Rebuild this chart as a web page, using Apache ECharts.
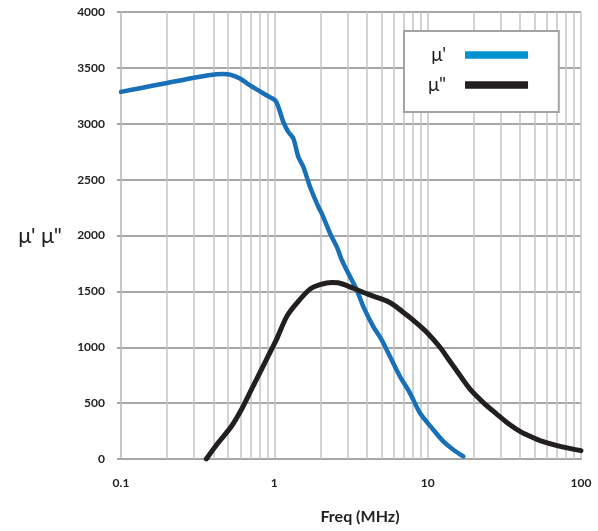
<!DOCTYPE html>
<html>
<head>
<meta charset="utf-8">
<script src="https://cdn.jsdelivr.net/npm/echarts@6/dist/echarts.min.js"></script>
<style>html,body{margin:0;padding:0;background:#fff}#c{width:598px;height:531px}</style>
</head>
<body>
<div id="c"></div>
<script>
// μ' (real part) : frequency (MHz) and values
var freqMuP = [0.1, 0.133, 0.2, 0.327, 0.42, 0.47, 0.514, 0.597, 0.69, 0.806, 0.9, 1.01, 1.062, 1.144, 1.233, 1.33, 1.433, 1.545, 1.709, 1.936, 2.037, 2.307, 2.552, 2.75, 2.89, 3.115, 3.446, 3.805, 4.42, 5.01, 5.68, 6.6, 7.67, 8.91, 10.89, 12.65, 14.7, 17.08];
var muP = [3285, 3318, 3365, 3420, 3442, 3445, 3440, 3405, 3345, 3290, 3250, 3211, 3151, 3017, 2928, 2868, 2704, 2615, 2436, 2257, 2198, 2020, 1900, 1781, 1721, 1632, 1513, 1364, 1185, 1066, 917, 738, 590, 411, 262, 157, 83, 23];
// μ" (imaginary part)
var freqMuPP = [0.36, 0.429, 0.524, 0.609, 0.707, 0.822, 0.955, 1.03, 1.204, 1.4, 1.709, 1.986, 2.366, 2.6, 3.27, 4.2, 5.4, 6.12, 7.12, 8.27, 10, 12.04, 13.31, 15.47, 18.9, 23.07, 28.2, 33, 40, 48, 54, 73, 100];
var muPP = [0, 143, 291, 441, 619, 798, 977, 1066, 1274, 1394, 1520, 1560, 1580, 1577, 1528, 1468, 1415, 1370, 1300, 1228, 1126, 1000, 915, 790, 625, 505, 402, 325, 248, 195, 165, 113, 75];
var xTickLabels = ['0.1', '1', '10', '100'];
var yTicks = [0, 500, 1000, 1500, 2000, 2500, 3000, 3500, 4000];
var minorX = [0.2,0.3,0.4,0.5,0.6,0.7,0.8,0.9,2,3,4,5,6,7,8,9,20,30,40,50,60,70,80,90];
var seriesNames = ["μ'", 'μ"'];
var legendColors = ['#0093d0', '#231f20'];

function pairs(xs, ys){ return xs.map(function(x,i){ return [x, ys[i]]; }); }

var FONT = 'Lato, "Noto Sans", "DejaVu Sans", sans-serif';
var chart = echarts.init(document.getElementById('c'), null, {renderer:'canvas'});
chart.setOption({
  animation: false,
  backgroundColor: '#fff',
  grid: {left: 121, right: 17, top: 12, bottom: 72, containLabel: false},
  legend: {
    orient: 'vertical', left: 404, top: 31, z: 10,
    padding: [13, 27, 16, 24], itemGap: 8,
    itemWidth: 63, itemHeight: 8, align: 'right',
    backgroundColor: '#fff', borderColor: '#a3a3a3', borderWidth: 2,
    textStyle: {fontSize: 19, lineHeight: 22, fontFamily: FONT, color: '#231f20', width: 17, padding: [0, 14, 0, 0]},
    data: seriesNames.map(function(n, i){
      return {name: n, itemStyle: {color: legendColors[i], borderWidth: 0, opacity: 0},
              lineStyle: {color: legendColors[i], width: 7.5, cap: 'butt'}};
    })
  },
  xAxis: {
    type: 'log', logBase: 10, min: 0.1, max: 100,
    name: 'Freq (MHz)', nameLocation: 'middle', nameGap: 50,
    nameTextStyle: {fontSize: 16, fontWeight: 'bold', fontFamily: FONT, color: '#231f20', padding: [0, 0, 0, 18]},
    axisLine: {show: true, lineStyle: {color: '#a8a8a8', width: 2}},
    axisTick: {show: false},
    axisLabel: {margin: 18, fontSize: 12, fontWeight: 'bold', fontFamily: FONT, color: '#231f20',
      formatter: function(v){ return xTickLabels[Math.round(Math.log10(v)) + 1]; }},
    splitLine: {show: true, lineStyle: {color: '#c4c4c4', width: 1.5}}
  },
  yAxis: {
    type: 'value', min: yTicks[0], max: yTicks[yTicks.length-1], interval: 500,
    name: seriesNames[0] + ' ' + seriesNames[1], nameLocation: 'middle', nameRotate: 0, nameGap: 59,
    nameTextStyle: {fontSize: 22, fontFamily: FONT, color: '#231f20'},
    axisLine: {show: true, lineStyle: {color: '#c4c4c4', width: 1.5}},
    axisTick: {show: true, length: 4, lineStyle: {color: '#a8a8a8', width: 2}},
    axisLabel: {margin: 16, fontSize: 12, fontWeight: 'bold', fontFamily: FONT, color: '#231f20',
      formatter: function(v){ return String(v); }},
    splitLine: {show: true, lineStyle: {color: '#a8a8a8', width: 2}}
  },
  series: [
    {
      name: 'grid-minor', type: 'line', data: [], z: 1, silent: true,
      markLine: {
        z: 1, silent: true, symbol: ['none', 'none'], label: {show: false},
        lineStyle: {color: '#c4c4c4', width: 1.5, type: 'solid'},
        emphasis: {disabled: true},
        data: minorX.map(function(v){ return {xAxis: v}; })
      }
    },
    {
      name: seriesNames[0], type: 'line', z: 3, smooth: 0.3, symbol: 'none', showSymbol: false,
      data: pairs(freqMuP, muP),
      itemStyle: {color: '#1870b8'},
      lineStyle: {color: '#1870b8', width: 4.5, cap: 'round', join: 'round'}
    },
    {
      name: seriesNames[1], type: 'line', z: 3, smooth: 0.3, symbol: 'none', showSymbol: false,
      data: pairs(freqMuPP, muPP),
      itemStyle: {color: '#231f20'},
      lineStyle: {color: '#231f20', width: 5, cap: 'round', join: 'round'}
    }
  ]
});
</script>
</body>
</html>
